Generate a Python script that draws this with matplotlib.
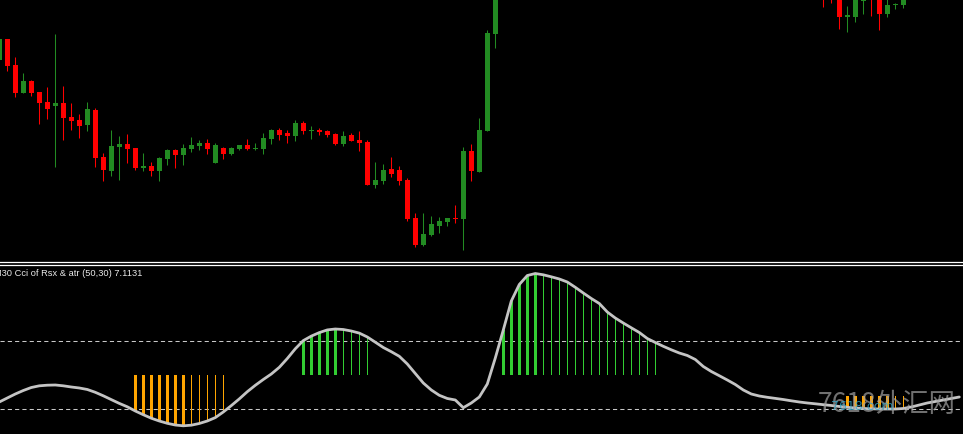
import numpy as np
import matplotlib
matplotlib.use("Agg")
import matplotlib.pyplot as plt

nan = np.nan
# ---------------- price data (arbitrary price units) ----------------
opens = [240, 261, 235, 207.3, 219, 208, 198, 194.3, 197, 183, 180, 175.3, 190, 143, 129.3, 153.3,
         156, 152, 132.3, 134, 129.3, 141.3, 150, 145.3, 151.3, 154.3, 157, 137.3, 152, 146.3, 151.3, 155,
         151, 151, 161, 170, 167, 164, 177, 169.3, 170.3, 169, 166, 156, 165, 160, 158, 115, 119, 131, 130,
         120, 82, 55, 65, 74, 78, 82.5, 81, 149, 128, 169, 266]
highs = [262, 261, 243, 227, 220, 208, 213, 266, 214, 197, 186, 198, 192, 147, 170, 164.3,
         166.3, 152, 147, 138, 143, 151, 151, 156, 163.3, 160, 161, 157, 153.3, 153.3, 155, 161,
         157, 167, 171, 172, 170, 180, 179, 174, 172, 170, 167, 169, 167, 169, 160, 138, 136, 143, 134,
         122, 87, 87, 84, 83, 82, 95, 153, 156, 182, 270, 350]
lows = [239, 229.3, 203.3, 207.3, 204.3, 176.3, 181.3, 133.3, 160.3, 170.3, 162.3, 169.3, 133.3, 119.3, 124.3, 120.3,
        137.3, 130.3, 129.3, 124.3, 119.3, 135.3, 132.3, 135.3, 148.3, 150.3, 146.3, 137.3, 141.3, 145.3, 150.3, 150.3,
        150, 146, 156, 160, 157, 159, 166, 161, 165, 163, 155, 154, 159, 149, 115, 112, 116, 123, 115,
        79, 53, 54, 64, 67, 74, 77, 50, 119, 128, 169, 252]
closes = [261, 234.3, 207.3, 219, 207.3, 197.3, 191, 197, 182.3, 179, 174.3, 191, 142.3, 130.3, 154, 156,
          151.3, 132.3, 134, 129.3, 142, 150, 145.3, 152, 155, 157, 151.3, 155, 146.3, 152, 155, 151.3,
          151.7, 162, 170, 165, 164, 177, 169, 170.3, 168, 165, 156, 164, 159, 157, 115, 120, 130, 126, 119,
          81, 55, 66, 76, 79, 82, 81.5, 149, 129, 170, 267, 340]
# bars 63..102 lie far above the visible price range (not readable)
opens += [nan] * 40
highs += [nan] * 40
lows += [nan] * 40
closes += [nan] * 40
opens += [320, 320, 310, 283.5, 283.3, 299.5, 315, 305, 286, 294.7, 295]
highs += [330, 330, 320, 294, 310, 310, 320, 310, 302, 297, 308]
lows += [293.3, 297, 271, 268, 278, 286, 284, 270, 283, 291, 292]
closes += [305, 308, 283.3, 285, 305, 301, 303, 286, 295, 296, 302]
opens += [nan] * 7
highs += [nan] * 7
lows += [nan] * 7
closes += [nan] * 7

# ---------------- indicator: "Cci of Rsx & atr (50,30)" ----------------
cci = [-79.4, -67.6, -55.9, -45.6, -36.8, -31.8, -30.0, -29.4, -31.8, -35.3, -38.2, -42.6, -50.9, -61.2,
       -72.4, -83.5, -93.5, -105.9, -116.8, -127.1, -135.3, -142.1, -147.1, -149.4, -147.6, -142.6, -135.3,
       -125.3, -108.8, -90.0, -70.3, -49.1, -30.3, -13.2, 2.9, 22.6, 48.5, 77.1, 101.2, 114.4, 124.7, 132.6,
       135.3, 133.8, 129.4, 123.2, 111.8, 96.5, 80.9, 68.5, 55.0, 32.4, 4.4, -23.5, -44.1, -59.7, -69.1,
       -73.5, -96.2, -82.3, -64.7, -26.5, 50.0, 132.4, 217.6, 266.2, 292.6, 298.5, 294.7, 288.8, 282.4,
       273.5, 257.9, 241.2, 225.0, 210.3, 185.3, 167.6, 152.9, 138.8, 125.0, 107.3, 95.6, 84.4, 74.1, 64.7,
       57.4, 45.6, 25.0, 10.3, -2.1, -14.7, -27.9, -44.1, -55.9, -61.8, -65.6, -68.8, -72.1, -75.9, -79.4,
       -82.3, -84.7, -87.3, -89.7, -92.6, -95.0, -97.1, -98.5, -99.4, -100.0, -100.0, -100.0, -98.5,
       -94.1, -88.2, -82.3, -77.9, -73.5, -69.1, -64.7]
# histogram state per bar: U strong up, u weak up, D strong down, d weak down, '' none
hist_state = ([''] * 17 + ['D'] * 7 + ['d'] * 5 + [''] * 9 + ['U'] * 5 + ['u'] * 4 + [''] * 16 +
              ['U'] * 5 + ['u'] * 15 + [''] * 23 + ['D'] * 6 + ['d'] * 2 + [''] * 7)
hist_base = [0.0] * 100 + [-61.8] * 21
levels = [100, -100]
label = "M30 Cci of Rsx & atr (50,30) 7.1131"

# ---------------- figure ----------------
W, H = 963, 434
fig = plt.figure(figsize=(W / 100, H / 100), dpi=100, facecolor="black")
top_px = 261.5
bot_px = 264.5
ax1 = fig.add_axes([0, (H - top_px) / H, 1, top_px / H], facecolor="black")
ax2 = fig.add_axes([0, 0, 1, (H - bot_px) / H], facecolor="black")

n = len(closes)
x = np.arange(n)
xlim = ((0 + 0.7) / 8, (W + 0.7) / 8)

o = np.array(opens, float); c = np.array(closes, float)
h = np.array(highs, float); l = np.array(lows, float)
up = c >= o
col = np.where(up, "#228B22", "#FF0000")
ax1.vlines(x, l, h, colors=col, linewidth=0.75)
body_h = np.where(np.abs(c - o) < 1.0, 1.0, c - o)
ax1.bar(x, body_h, bottom=o, width=5 / 8, color=col, linewidth=0)
ax1.set_xlim(*xlim)
ax1.set_ylim(300 - top_px, 300)

# indicator panel
v = np.array(cci, float)
base = np.array(hist_base, float)
for st, colr, wd in [("U", "#32CD32", 3 / 8), ("u", "#32CD32", 1 / 8),
                     ("D", "#FFA500", 3 / 8), ("d", "#FFA500", 1 / 8)]:
    m = np.array([s == st for s in hist_state])
    ax2.bar(x[m], v[m] - base[m], bottom=base[m], width=wd, color=colr, linewidth=0, zorder=2)
for lv in levels:
    ax2.axhline(lv, color="#c8c8c8", linewidth=0.75, linestyle=(0, (4, 3)), zorder=1)
ax2.plot(x, v, color="#c4c4c4", linewidth=2.0, zorder=3, solid_capstyle="round")
ax2.set_xlim(*xlim)
ax2.set_ylim((375 - H) * 100 / 34, (375 - bot_px) * 100 / 34)

for ax in (ax1, ax2):
    ax.set_xticks([]); ax.set_yticks([])
    for s in ax.spines.values():
        s.set_visible(False)
ax1.spines["bottom"].set_visible(True)
ax1.spines["bottom"].set_color("white")
ax1.spines["bottom"].set_linewidth(0.9)
ax2.spines["top"].set_visible(True)
ax2.spines["top"].set_color("white")
ax2.spines["top"].set_linewidth(0.9)

t = fig.text(-5.5 / W, 1 - 273.5 / H, label, color="#e8e8e8", fontsize=6.4,
             family="Liberation Sans", va="center", ha="left")
fig.canvas.draw()
bb = t.get_window_extent()
t.set_fontsize(6.4 * 148 / bb.width)

# watermark
fig.text(887 / W, 1 - 405 / H, "7618外汇网", color="#a0a0a0", alpha=0.7, fontsize=19,
         family=["Noto Sans CJK SC", "DejaVu Sans"], ha="center", va="center")
fig.text(862 / W, 1 - 407 / H, "7618.com", color="#2fa6c8", alpha=0.75, fontsize=9,
         family="DejaVu Sans", ha="center", va="center")

fig.savefig("out.png", dpi=100, facecolor="black")
